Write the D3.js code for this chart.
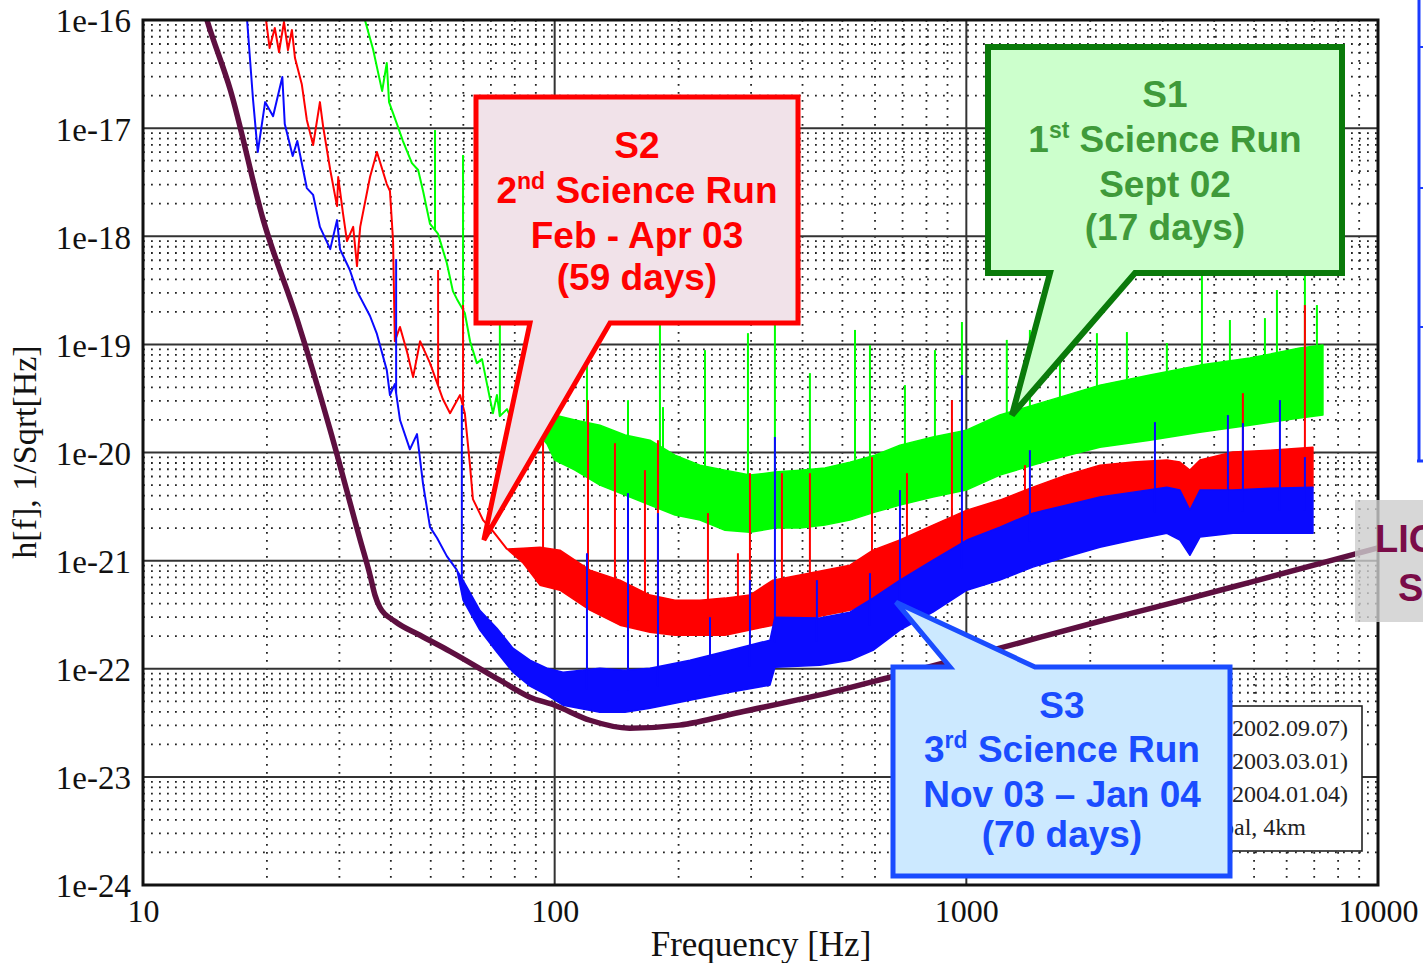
<!DOCTYPE html>
<html><head><meta charset="utf-8">
<script src="https://cdn.jsdelivr.net/npm/d3@7"></script>
<style>
html,body{margin:0;padding:0;background:#fff;overflow:hidden;}
svg{display:block;}
</style></head><body>
<svg id="chart" width="1423" height="963"></svg>
<script>
// ---------------- DATA ----------------
const xTickValues = [10, 100, 1000, 10000];
const yTickValues = [1e-24, 1e-23, 1e-22, 1e-21, 1e-20, 1e-19, 1e-18, 1e-17, 1e-16];
const xTitle = "Frequency [Hz]";
const yTitle = "h[f], 1/Sqrt[Hz]";
// legend labels (their left parts are hidden behind the S3 callout in the reference)
const legendLabels = ["(2002.09.07)", "(2003.03.01)", "(2004.01.04)", "Goal, 4km"];

// LIGO I SRD goal curve
const srdFreq = [13.75, 14.3, 16.3, 19.6, 23.7, 28.5, 33.7, 35.6, 36.6, 37.6, 40.9, 47.1, 55.7, 73.6, 87.1, 100, 121.8, 152, 201, 282, 493, 652, 1206, 2111, 3357, 4886, 10000];
const srdAmp  = [1.67e-16, 1e-16, 2.25e-17, 1.41e-18, 1.68e-19, 1.61e-20, 1.55e-21, 7.35e-22, 4.8e-22, 3.71e-22, 2.75e-22, 2.04e-22, 1.45e-22, 7.84e-23, 5.46e-23, 4.6e-23, 3.34e-23, 2.82e-23, 3.01e-23, 3.96e-23, 6.34e-23, 8.35e-23, 1.55e-22, 2.75e-22, 4.31e-22, 6.3e-22, 1.31e-21];

// S1 (green)
const s1LineFreq = [33.7, 34.6, 36.2, 38.1, 39.1, 39.6, 41.4, 42.8, 45.0, 46.6, 47.9, 49.8, 52.1, 54.7, 56.6, 57.9, 60.5, 62.3, 64.7, 66.6, 68.5, 70.8, 72.4, 73.6, 76.6, 77.9, 82.4, 89.6];
const s1LineAmp  = [1.3e-16, 1e-16, 5.39e-17, 2.2e-17, 4.0e-17, 1.74e-17, 1.09e-17, 7.6e-18, 4.75e-18, 4.1e-18, 2.62e-18, 1.3e-18, 1.05e-18, 5.65e-19, 3.11e-19, 2.62e-19, 1.95e-19, 1.07e-19, 6.71e-20, 7.31e-20, 4.29e-20, 2.31e-20, 3.4e-20, 2.17e-20, 2.52e-20, 2.17e-20, 1.91e-20, 1.61e-20];
const s1BandFreq = [89.6, 95.8, 100, 112, 128.8, 148.2, 170.4, 196, 225.4, 259.3, 298.1, 342.8, 394.3, 453.6, 521.6, 600, 689.9, 829.8, 1000, 1206, 1596, 2111, 2793, 3694, 4886, 6462, 7349];
const s1BandHi   = [1.61e-20, 1.9e-20, 2.22e-20, 2.0e-20, 1.79e-20, 1.45e-20, 1.3e-20, 9.44e-21, 7.64e-21, 6.87e-21, 6.18e-21, 6.59e-21, 6.87e-21, 7.18e-21, 8.15e-21, 9.44e-21, 1.17e-20, 1.39e-20, 1.61e-20, 2.22e-20, 3.05e-20, 4.2e-20, 5.2e-20, 6.43e-20, 7.47e-20, 9.24e-20, 9.85e-20];
const s1BandLo   = [1.61e-20, 1.2e-20, 8.51e-21, 6.87e-21, 4.99e-21, 4.04e-21, 3.26e-21, 2.64e-21, 2.37e-21, 1.91e-21, 1.83e-21, 2.0e-21, 2.0e-21, 2.13e-21, 2.37e-21, 2.81e-21, 3.26e-21, 3.87e-21, 4.49e-21, 6.18e-21, 8.51e-21, 1.12e-20, 1.3e-20, 1.54e-20, 1.79e-20, 2.08e-20, 2.22e-20];
const s1SpikeFreq = [51.2, 59.9, 73.6, 119.8, 150.7, 180.2, 183.3, 231.8, 294.8, 342.8, 416.9, 536.4, 583.3, 709.4, 839, 975.7, 1254, 1427, 1688, 2076, 2455, 3070, 3735, 4368, 5313, 5682, 6644, 7106];
const s1SpikePeak = [9.6e-18, 5.64e-18, 1.68e-19, 6.71e-20, 3.05e-20, 1.57e-19, 2.63e-20, 8.85e-20, 1.27e-19, 1.57e-19, 5.42e-20, 1.36e-19, 9.85e-20, 4.2e-20, 8.85e-20, 1.61e-19, 1.1e-19, 1.36e-19, 8.85e-20, 1.27e-19, 1.3e-19, 1.03e-19, 5.41e-19, 1.68e-19, 1.75e-19, 3.18e-19, 5.77e-19, 2.31e-19];

// S2 (red)
const s2LineFreq = [19.7, 19.9, 20.3, 20.9, 21.4, 22.0, 22.5, 23.0, 23.4, 24.3, 25.0, 25.9, 26.9, 27.4, 28.5, 29.6, 29.8, 30.6, 31.3, 32.4, 33.1, 33.7, 35.6, 37.0, 39.1, 39.8, 40.5, 40.9, 42.1, 43.8, 45.3, 47.1, 49.8, 53.5, 55.7, 58.9, 60.5, 62.3, 63.3, 67.0, 70.8, 76.6];
const s2LineAmp  = [1.4e-16, 1.0e-16, 5.51e-17, 8.43e-17, 5.06e-17, 9.58e-17, 5.28e-17, 8.08e-17, 4.45e-17, 2.56e-17, 1.19e-17, 6.98e-18, 1.74e-17, 1.02e-17, 4.1e-18, 1.9e-18, 3.53e-18, 1.64e-18, 9.03e-19, 1.22e-18, 5.3e-19, 1.22e-18, 3.53e-18, 6.01e-18, 3.04e-18, 2.62e-18, 9.03e-19, 1.07e-19, 1.45e-19, 8.49e-20, 4.98e-20, 1.07e-19, 6.71e-20, 3.12e-20, 2.31e-20, 3.4e-20, 2.31e-20, 7.48e-21, 3.71e-21, 2.37e-21, 1.87e-21, 1.28e-21];
const s2BandFreq = [76.6, 83.8, 92.1, 103, 121.8, 144.1, 170.4, 196, 225.4, 259.3, 298.1, 339, 394.3, 521.6, 593.2, 689.9, 829.8, 1003, 1206, 1451, 1746, 2111, 2539, 3070, 3302, 3492, 3694, 4442, 5463, 6949];
const s2BandHi   = [1.28e-21, 1.3e-21, 1.33e-21, 1.25e-21, 8.17e-22, 6.6e-22, 4.8e-22, 4.31e-22, 4.31e-22, 4.5e-22, 4.8e-22, 6.6e-22, 7.35e-22, 9.08e-22, 1.25e-21, 1.55e-21, 2.13e-21, 2.93e-21, 3.63e-21, 4.78e-21, 6.18e-21, 7.64e-21, 8.15e-21, 8.51e-21, 8.15e-21, 6.87e-21, 8.51e-21, 1.01e-20, 1.05e-20, 1.12e-20];
const s2BandLo   = [1.28e-21, 9.5e-22, 5.93e-22, 5.33e-22, 3.48e-22, 2.53e-22, 2.18e-22, 2.04e-22, 2.04e-22, 2.04e-22, 2.28e-22, 2.53e-22, 2.81e-22, 3.48e-22, 4.31e-22, 5.33e-22, 6.89e-22, 9.08e-22, 1.17e-21, 1.55e-21, 1.91e-21, 2.37e-21, 2.93e-21, 3.26e-21, 3.06e-21, 2.37e-21, 3.26e-21, 4.49e-21, 4.49e-21, 4.78e-21];
const s2SpikeFreq = [52.1, 59.9, 93.7, 120.5, 140.1, 165.7, 178.2, 235.7, 278.7, 298.1, 356.5, 416.9, 589.9, 717.4, 922.6, 1388, 4697, 6644];
const s2SpikePeak = [4.87e-19, 2.31e-19, 1.39e-20, 3.05e-20, 1.22e-20, 6.87e-21, 1.3e-20, 2.75e-21, 1.17e-21, 6.44e-21, 6.44e-21, 6.44e-21, 9.06e-21, 6.44e-21, 3.05e-20, 7.64e-21, 3.54e-20, 2.31e-19];

// S3 (blue)
const s3LineFreq = [17.7, 17.9, 18.5, 19.0, 19.8, 20.7, 21.8, 22.1, 23.1, 23.7, 25.0, 25.9, 26.9, 28.5, 29.6, 30.1, 31.8, 33.1, 35.6, 37.0, 39.1, 39.8, 40.9, 42.1, 44.5, 46.3, 47.9, 49.8, 51.8, 54.7, 57.9];
const s3LineAmp  = [1.4e-16, 1e-16, 1.86e-17, 6.01e-18, 1.74e-17, 1.29e-17, 2.97e-17, 1.09e-17, 5.52e-18, 7.6e-18, 2.79e-18, 2.41e-18, 1.22e-18, 7.6e-19, 1.41e-18, 7.6e-19, 4.87e-19, 3.11e-19, 1.83e-19, 1.25e-19, 5.78e-20, 3.4e-20, 4.29e-20, 2.0e-20, 1.07e-20, 1.48e-20, 5.1e-21, 2.04e-21, 1.62e-21, 1.1e-21, 8.17e-22];
const s3BandFreq = [57.9, 59.9, 65.8, 72.4, 79.2, 87.1, 95.8, 104.8, 128.8, 148.2, 170.4, 213.1, 266.6, 333.4, 342.8, 440.9, 521.6, 593.2, 689.9, 829.8, 1003, 1206, 1451, 1746, 2111, 2539, 3070, 3302, 3492, 3694, 4442, 5463, 6949];
const s3BandHi   = [8.17e-22, 6.6e-22, 3.48e-22, 2.37e-22, 1.55e-22, 1.2e-22, 1.01e-22, 9.29e-23, 1.01e-22, 9.7e-23, 1.01e-22, 1.2e-22, 1.48e-22, 1.84e-22, 3.0e-22, 2.94e-22, 3.34e-22, 4.5e-22, 6.6e-22, 1.01e-21, 1.55e-21, 2.04e-21, 2.75e-21, 3.26e-21, 3.87e-21, 4.3e-21, 4.78e-21, 4.49e-21, 2.93e-21, 4.49e-21, 4.49e-21, 4.68e-21, 4.78e-21];
const s3BandLo   = [8.17e-22, 4.31e-22, 2.28e-22, 1.42e-22, 9.29e-23, 6.9e-23, 5.7e-23, 4.6e-23, 3.96e-23, 3.96e-23, 4.32e-23, 5.12e-23, 6.07e-23, 7.05e-23, 1.03e-22, 1.08e-22, 1.2e-22, 1.48e-22, 2.28e-22, 3.34e-22, 5.33e-22, 6.6e-22, 8.71e-22, 1.08e-21, 1.33e-21, 1.55e-21, 1.79e-21, 1.55e-21, 1.12e-21, 1.65e-21, 1.79e-21, 1.79e-21, 1.79e-21];
const s3SpikeFreq = [41.2, 59.5, 119.8, 150.7, 178.2, 238.4, 298.1, 342.8, 433.5, 583.3, 689.9, 975.7, 1427, 2872, 4319, 4697, 5778, 6644];
const s3SpikePeak = [6.15e-19, 2.74e-20, 1.17e-21, 4.21e-21, 2.75e-21, 3.0e-22, 6.6e-22, 1.39e-20, 6.6e-22, 7.66e-22, 4.49e-21, 5.2e-20, 1.05e-20, 1.91e-20, 2.22e-20, 1.87e-20, 3.05e-20, 9.06e-21];

// Callout texts (segments: [text, isSuperscript])
const s2Text = [[["S2", 0]], [["2", 0], ["nd", 1], [" Science Run", 0]], [["Feb - Apr 03", 0]], [["(59 days)", 0]]];
const s1Text = [[["S1", 0]], [["1", 0], ["st", 1], [" Science Run", 0]], [["Sept 02", 0]], [["(17 days)", 0]]];
const s3Text = [[["S3", 0]], [["3", 0], ["rd", 1], [" Science Run", 0]], [["Nov 03 \u2013 Jan 04", 0]], [["(70 days)", 0]]];
// callout pointer tips in data space [Hz, strain]
const s2Tip = [67.3, 1.55e-21];
const s1Tip = [1291, 2.22e-20];
const s3Tip = [674.6, 4.13e-22];

// ---------------- LAYOUT ----------------
const L = 143, R = 1378, T = 20, B = 885;
const serif = "'Liberation Serif','Times New Roman',Times,serif";
const sans = "'Liberation Sans',Arial,Helvetica,sans-serif";

const svg = d3.select("#chart");
svg.append("rect").attr("width", 1423).attr("height", 963).attr("fill", "#fff");

const x = d3.scaleLog().domain([10, 10000]).range([L, R]);
const y = d3.scaleLog().domain([1e-24, 1e-16]).range([B, T]);

svg.append("defs").append("clipPath").attr("id", "plotClip")
  .append("rect").attr("x", L).attr("y", T).attr("width", R - L).attr("height", B - T);

// minor grid
const xMinor = [], yMinor = [];
xTickValues.slice(0, -1).forEach(d => { for (let m = 2; m <= 9; m++) xMinor.push(d * m); });
yTickValues.slice(0, -1).forEach(d => { for (let m = 2; m <= 9; m++) yMinor.push(d * m); });

const grid = svg.append("g");
grid.selectAll("line.hmin").data(yMinor).join("line").attr("class", "hmin")
  .attr("x1", L).attr("x2", R).attr("y1", d => y(d)).attr("y2", d => y(d))
  .attr("stroke", "#222").attr("stroke-width", 1.8).attr("stroke-dasharray", "1.8,6.2");
grid.selectAll("line.vmin").data(xMinor).join("line").attr("class", "vmin")
  .attr("y1", T).attr("y2", B).attr("x1", d => x(d)).attr("x2", d => x(d))
  .attr("stroke", "#222").attr("stroke-width", 1.8).attr("stroke-dasharray", "1.8,6.2");
grid.selectAll("line.hmaj").data(yTickValues.slice(1, -1)).join("line").attr("class", "hmaj")
  .attr("x1", L).attr("x2", R).attr("y1", d => y(d)).attr("y2", d => y(d))
  .attr("stroke", "#333").attr("stroke-width", 2);
grid.selectAll("line.vmaj").data(xTickValues.slice(1, -1)).join("line").attr("class", "vmaj")
  .attr("y1", T).attr("y2", B).attr("x1", d => x(d)).attr("x2", d => x(d))
  .attr("stroke", "#333").attr("stroke-width", 2);

// curves
const plot = svg.append("g").attr("clip-path", "url(#plotClip)");
const lineGen = d3.line().x(d => x(d[0])).y(d => y(d[1]));

plot.append("path").datum(srdFreq.map((f, i) => [f, srdAmp[i]]))
  .attr("d", lineGen.curve(d3.curveMonotoneX)).attr("fill", "none")
  .attr("stroke", "#5e0f40").attr("stroke-width", 5.5).attr("stroke-linecap", "round");
lineGen.curve(d3.curveLinear);

function logInterp(fs, vs, f) {
  if (f <= fs[0]) return vs[0];
  if (f >= fs[fs.length - 1]) return vs[vs.length - 1];
  let i = 0;
  while (i < fs.length - 2 && fs[i + 1] < f) i++;
  const t = (Math.log(f) - Math.log(fs[i])) / (Math.log(fs[i + 1]) - Math.log(fs[i]));
  return Math.exp(Math.log(vs[i]) + t * (Math.log(vs[i + 1]) - Math.log(vs[i])));
}

function drawSeries(s) {
  const g = plot.append("g");
  const band = s.bandF.map((f, i) => [f, s.hi[i], s.lo[i]]);
  const area = d3.area().x(d => x(d[0])).y0(d => y(d[2])).y1(d => y(d[1]));
  g.append("path").datum(band).attr("d", area)
    .attr("fill", s.color).attr("stroke", s.color).attr("stroke-width", 1.5).attr("stroke-linejoin", "round");
  g.append("path").datum(s.lineF.map((f, i) => [f, s.lineV[i]])).attr("d", lineGen)
    .attr("fill", "none").attr("stroke", s.color).attr("stroke-width", 2).attr("stroke-linejoin", "round");
  const mid = s.bandF.map((f, i) => Math.sqrt(s.hi[i] * s.lo[i]));
  const spikes = s.spF.map((f, i) => {
    const base = f <= s.lineF[s.lineF.length - 1] ? logInterp(s.lineF, s.lineV, f) : logInterp(s.bandF, mid, f);
    return { f, base, peak: s.spP[i] };
  });
  g.selectAll("line").data(spikes).join("line")
    .attr("x1", d => x(d.f)).attr("x2", d => x(d.f))
    .attr("y1", d => y(d.base)).attr("y2", d => y(d.peak))
    .attr("stroke", s.color).attr("stroke-width", 2);
}

drawSeries({ color: "#00ff00", lineF: s1LineFreq, lineV: s1LineAmp, bandF: s1BandFreq, hi: s1BandHi, lo: s1BandLo, spF: s1SpikeFreq, spP: s1SpikePeak });
drawSeries({ color: "#ff0000", lineF: s2LineFreq, lineV: s2LineAmp, bandF: s2BandFreq, hi: s2BandHi, lo: s2BandLo, spF: s2SpikeFreq, spP: s2SpikePeak });
drawSeries({ color: "#0a0aff", lineF: s3LineFreq, lineV: s3LineAmp, bandF: s3BandFreq, hi: s3BandHi, lo: s3BandLo, spF: s3SpikeFreq, spP: s3SpikePeak });

// frame
svg.append("rect").attr("x", L).attr("y", T).attr("width", R - L).attr("height", B - T)
  .attr("fill", "none").attr("stroke", "#111").attr("stroke-width", 3);

// axes
const gx = svg.append("g").attr("transform", `translate(0,${B})`)
  .call(d3.axisBottom(x).tickValues(xTickValues).tickFormat(d3.format("d")).tickSize(0).tickPadding(14));
gx.select(".domain").remove();
gx.selectAll("text").attr("font-family", serif).attr("font-size", 32).attr("fill", "#111");

const gy = svg.append("g").attr("transform", `translate(${L},0)`)
  .call(d3.axisLeft(y).tickValues(yTickValues).tickFormat(d => "1e" + Math.round(Math.log10(d))).tickSize(0).tickPadding(12));
gy.select(".domain").remove();
gy.selectAll("text").attr("font-family", serif).attr("font-size", 33).attr("fill", "#111").attr("dy", "0.36em");

svg.append("text").attr("x", 761).attr("y", 956).attr("text-anchor", "middle")
  .attr("font-family", serif).attr("font-size", 35).attr("fill", "#111").text(xTitle);
svg.append("text").attr("transform", "translate(36,452) rotate(-90)").attr("text-anchor", "middle")
  .attr("font-family", serif).attr("font-size", 34).attr("fill", "#111").text(yTitle);

// legend (mostly covered by the S3 callout)
const leg = svg.append("g");
leg.append("rect").attr("x", 1000).attr("y", 706).attr("width", 362).attr("height", 145)
  .attr("fill", "#fff").attr("stroke", "#222").attr("stroke-width", 1.6);
leg.selectAll("text").data(legendLabels).join("text")
  .attr("x", (d, i) => i < 3 ? 1348 : 1306).attr("text-anchor", "end")
  .attr("y", (d, i) => 736 + i * 33).attr("font-family", serif).attr("font-size", 24).attr("fill", "#222").text(d => d);

// callouts
function drawCallout(c) {
  const tx = x(c.tip[0]), ty = y(c.tip[1]);
  const d = c.side === "bottom"
    ? `M${c.x0},${c.y0}H${c.x1}V${c.y1}H${c.b1}L${tx},${ty}L${c.b0},${c.y1}H${c.x0}Z`
    : `M${c.x0},${c.y0}H${c.b0}L${tx},${ty}L${c.b1},${c.y0}H${c.x1}V${c.y1}H${c.x0}Z`;
  svg.append("path").attr("d", d).attr("fill", c.fill).attr("stroke", c.stroke)
    .attr("stroke-width", c.sw).attr("stroke-linejoin", "miter");
  c.lines.forEach((segs, i) => {
    const t = svg.append("text").attr("x", c.cx).attr("y", c.base[i]).attr("text-anchor", "middle")
      .attr("font-family", sans).attr("font-weight", "bold").attr("font-size", 37).attr("fill", c.color);
    let raised = false;
    segs.forEach(([s, sup]) => {
      const ts = t.append("tspan").text(s);
      if (sup) { ts.attr("font-size", 23).attr("dy", -14); raised = true; }
      else if (raised) { ts.attr("dy", 14); raised = false; }
    });
  });
}
drawCallout({ x0: 476, y0: 97, x1: 798, y1: 323, side: "bottom", b0: 530, b1: 610, tip: s2Tip,
  fill: "#f1e2e9", stroke: "#ff0000", sw: 5, color: "#ff0000", cx: 637, base: [158, 203, 248, 290], lines: s2Text });
drawCallout({ x0: 988, y0: 47, x1: 1342, y1: 273, side: "bottom", b0: 1050, b1: 1135, tip: s1Tip,
  fill: "#ccffcc", stroke: "#0a7a0a", sw: 6, color: "#3f9a3a", cx: 1165, base: [107, 152, 197, 240], lines: s1Text });
drawCallout({ x0: 893, y0: 667, x1: 1230, y1: 876, side: "top", b0: 950, b1: 1035, tip: s3Tip,
  fill: "#cce9ff", stroke: "#1a4cff", sw: 5, color: "#1a4cff", cx: 1062, base: [718, 762, 807, 847], lines: s3Text });

// slide decorations at right edge
svg.append("rect").attr("x", 1355).attr("y", 500).attr("width", 70).attr("height", 122)
  .attr("fill", "#cdcdcd").attr("opacity", 0.8);
svg.append("text").attr("x", 1375).attr("y", 552).attr("font-family", sans).attr("font-weight", "bold")
  .attr("font-size", 38).attr("fill", "#7a0c48").text("LIGO");
svg.append("text").attr("x", 1398).attr("y", 601).attr("font-family", sans).attr("font-weight", "bold")
  .attr("font-size", 38).attr("fill", "#7a0c48").text("SRD");
const bf = svg.append("g").attr("stroke", "#1a3cff");
bf.append("line").attr("x1", 1419).attr("x2", 1419).attr("y1", 0).attr("y2", 462).attr("stroke-width", 3);
bf.append("line").attr("x1", 1417).attr("x2", 1423).attr("y1", 461).attr("y2", 461).attr("stroke-width", 3);
[47, 188, 327].forEach(v => bf.append("line").attr("x1", 1419).attr("x2", 1423).attr("y1", v).attr("y2", v).attr("stroke-width", 2));
</script>
</body></html>
